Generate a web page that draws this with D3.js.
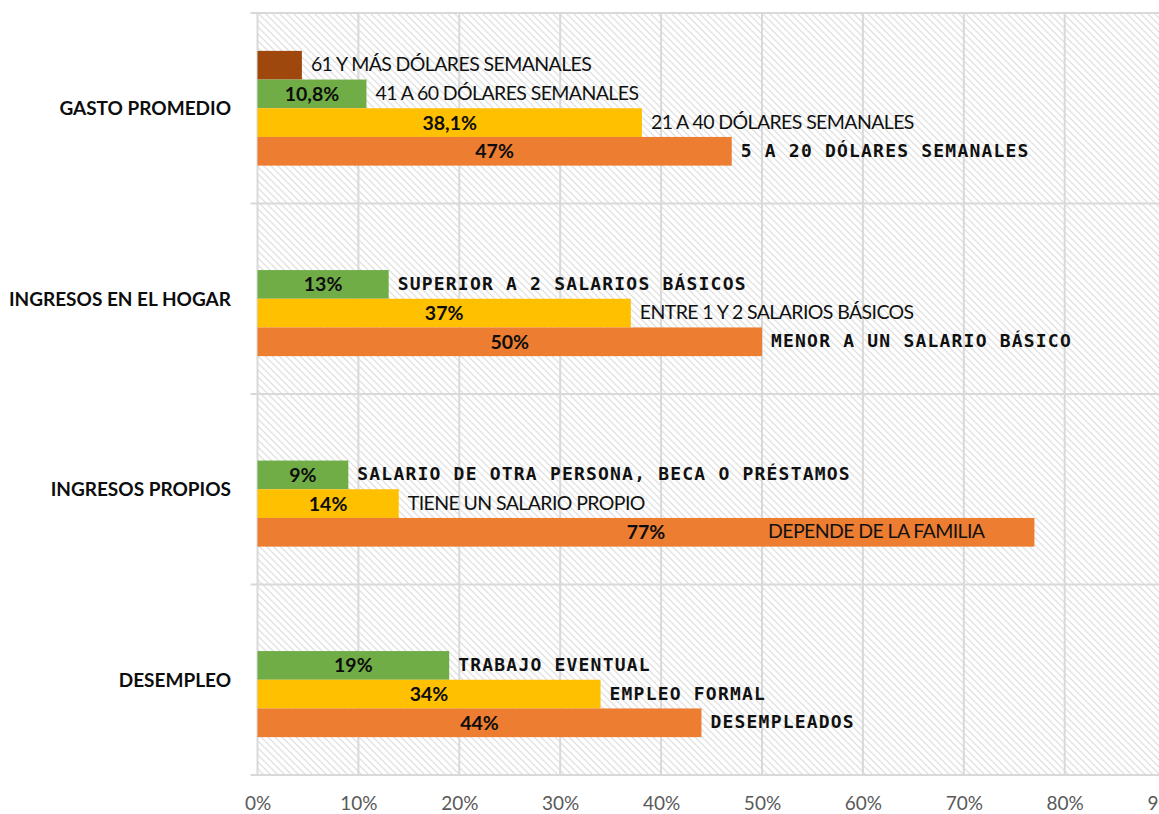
<!DOCTYPE html>
<html>
<head>
<meta charset="utf-8">
<script src="https://cdn.jsdelivr.net/npm/d3@7"></script>
<style>
  body { margin: 0; background: #fff; }
  svg { display: block; }
</style>
</head>
<body>
<div id="chart"></div>
<script>
// categories, top to bottom
const categories = ["GASTO PROMEDIO", "INGRESOS EN EL HOGAR", "INGRESOS PROPIOS", "DESEMPLEO"];

// series (bottom slot first, like excel clustered bars)
const orangeValues = [0.47, 0.50, 0.77, 0.44];
const yellowValues = [0.381, 0.37, 0.14, 0.34];
const greenValues = [0.108, 0.13, 0.09, 0.19];
const brownValues = [0.044, null, null, null];

const orangeLabels = ["47%", "50%", "77%", "44%"];
const yellowLabels = ["38,1%", "37%", "14%", "34%"];
const greenLabels = ["10,8%", "13%", "9%", "19%"];
const brownLabels = ["", "", "", ""];

const orangeTexts = ["5 A 20 DÓLARES SEMANALES", "MENOR A UN SALARIO BÁSICO", "DEPENDE DE LA FAMILIA", "DESEMPLEADOS"];
const yellowTexts = ["21 A 40 DÓLARES SEMANALES", "ENTRE 1 Y 2 SALARIOS BÁSICOS", "TIENE UN SALARIO PROPIO", "EMPLEO FORMAL"];
const greenTexts = ["41 A 60 DÓLARES SEMANALES", "SUPERIOR A 2 SALARIOS BÁSICOS", "SALARIO DE OTRA PERSONA, BECA O PRÉSTAMOS", "TRABAJO  EVENTUAL"];
const brownTexts = ["61 Y MÁS DÓLARES SEMANALES", null, null, null];

// which text boxes use the monospace look
const orangeMono = [true, true, false, true];
const yellowMono = [false, false, false, true];
const greenMono = [false, true, true, true];
const brownMono = [false, false, false, false];

const xTicks = [0, 0.1, 0.2, 0.3, 0.4, 0.5, 0.6, 0.7, 0.8, 0.9];

const series = [
    {key: "brown", color: "#9E480E", values: brownValues, labels: brownLabels, texts: brownTexts, mono: brownMono},
    {key: "green", color: "#70AD47", values: greenValues, labels: greenLabels, texts: greenTexts, mono: greenMono},
    {key: "yellow", color: "#FFC000", values: yellowValues, labels: yellowLabels, texts: yellowTexts, mono: yellowMono},
    {key: "orange", color: "#ED7D31", values: orangeValues, labels: orangeLabels, texts: orangeTexts, mono: orangeMono},
];

const width = 1159;
const height = 814;
const margin = {top: 13, left: 257.5, bottom: 39};

const svg = d3.select("#chart").append("svg")
    .attr("width", width)
    .attr("height", height);

const defs = svg.append("defs");
const pat = defs.append("pattern")
    .attr("id", "hatch")
    .attr("patternUnits", "userSpaceOnUse")
    .attr("width", 7)
    .attr("height", 7);
pat.append("rect").attr("width", 7).attr("height", 7).attr("fill", "#fff");
pat.append("path")
    .attr("d", "M-1,-1 L8,8 M-1,6 L1,8 M6,-1 L8,1")
    .attr("stroke", "#e1e1e1")
    .attr("stroke-width", 1.3);

const x = d3.scaleLinear()
    .domain([0, 0.9])
    .range([margin.left, margin.left + 908.1]);

const y = d3.scaleBand()
    .domain(categories)
    .range([margin.top, height - margin.bottom]);

const inner = d3.scaleBand()
    .domain(series.map(s => s.key))
    .range([0, y.bandwidth()])
    .paddingInner(0)
    .paddingOuter(1.32);

const plotBottom = height - margin.bottom;

// background
svg.append("rect")
    .attr("x", margin.left)
    .attr("y", margin.top)
    .attr("width", width - margin.left)
    .attr("height", plotBottom - margin.top)
    .attr("fill", "url(#hatch)");

// vertical gridlines
svg.append("g")
    .selectAll("line")
    .data(xTicks)
    .enter()
    .append("line")
    .attr("x1", d => x(d))
    .attr("x2", d => x(d))
    .attr("y1", margin.top)
    .attr("y2", plotBottom)
    .attr("stroke", "#d9d9d9")
    .attr("stroke-width", 2);

// band separators (category axis ticks)
const bounds = categories.map(c => y(c)).concat([plotBottom]);
svg.append("g")
    .selectAll("line")
    .data(bounds)
    .enter()
    .append("line")
    .attr("x1", margin.left - 7)
    .attr("x2", width)
    .attr("y1", d => d)
    .attr("y2", d => d)
    .attr("stroke", "#d9d9d9")
    .attr("stroke-width", 2);

// x axis labels
const xAxis = svg.append("g")
    .attr("transform", `translate(0, ${plotBottom})`)
    .call(d3.axisBottom(x).tickValues(xTicks).tickSize(0).tickFormat(d3.format(".0%")));
xAxis.select(".domain").remove();
xAxis.selectAll("text")
    .attr("y", 22)
    .style("font-family", "Lato, 'Open Sans', sans-serif")
    .style("font-size", "19px")
    .attr("fill", "#595959");

// category labels
svg.append("g")
    .selectAll("text")
    .data(categories)
    .enter()
    .append("text")
    .attr("x", 231)
    .attr("y", d => y(d) + y.bandwidth() / 2)
    .attr("dy", "0.36em")
    .attr("text-anchor", "end")
    .style("font-family", "Lato, 'Open Sans', sans-serif")
    .style("font-weight", "bold")
    .style("font-size", "19px")
    .attr("fill", "#0d0d0d")
    .text(d => d);

const rows = [];
series.forEach(s => {
    categories.forEach((c, i) => {
        if (s.values[i] == null) return;
        rows.push({cat: c, key: s.key, color: s.color, value: s.values[i], label: s.labels[i], text: s.texts[i], mono: s.mono[i]});
    });
});

svg.append("g")
    .selectAll("rect")
    .data(rows)
    .enter()
    .append("rect")
    .attr("x", x(0))
    .attr("y", d => y(d.cat) + inner(d.key))
    .attr("width", d => x(d.value) - x(0))
    .attr("height", inner.bandwidth())
    .attr("fill", d => d.color);

// value labels, centred in the bar
svg.append("g")
    .selectAll("text")
    .data(rows.filter(d => d.label))
    .enter()
    .append("text")
    .attr("x", d => (x(0) + x(d.value)) / 2)
    .attr("y", d => y(d.cat) + inner(d.key) + inner.bandwidth() / 2)
    .attr("dy", "0.36em")
    .attr("text-anchor", "middle")
    .style("font-family", "Lato, 'Open Sans', sans-serif")
    .style("font-weight", "bold")
    .style("font-size", "19.5px")
    .attr("fill", "#0d0d0d")
    .text(d => d.label);

// text boxes after the bar end
const txt = svg.append("g")
    .selectAll("text")
    .data(rows.filter(d => d.text))
    .enter()
    .append("text")
    .attr("y", d => y(d.cat) + inner(d.key) + inner.bandwidth() / 2 - 1)
    .attr("dy", "0.36em")
    .attr("fill", "#111")
    .each(function(d) {
        const t = d3.select(this);
        if (d.mono) {
            t.style("font-family", "'DejaVu Sans Mono', monospace")
                .style("font-weight", "bold")
                .style("font-size", "18px")
                .style("letter-spacing", "1.2px");
        } else {
            t.style("font-family", "Lato, 'Open Sans', sans-serif")
                .style("font-size", "19.5px")
                .style("letter-spacing", "-0.6px");
        }
    })
    .text(d => d.text);

txt.each(function(d) {
    const t = d3.select(this);
    const w = this.getComputedTextLength();
    const end = x(d.value);
    if (end + 9 + w > width) {
        t.attr("x", end - 50).attr("text-anchor", "end");
    } else {
        t.attr("x", end + 9).attr("text-anchor", "start");
    }
});
</script>
</body>
</html>
